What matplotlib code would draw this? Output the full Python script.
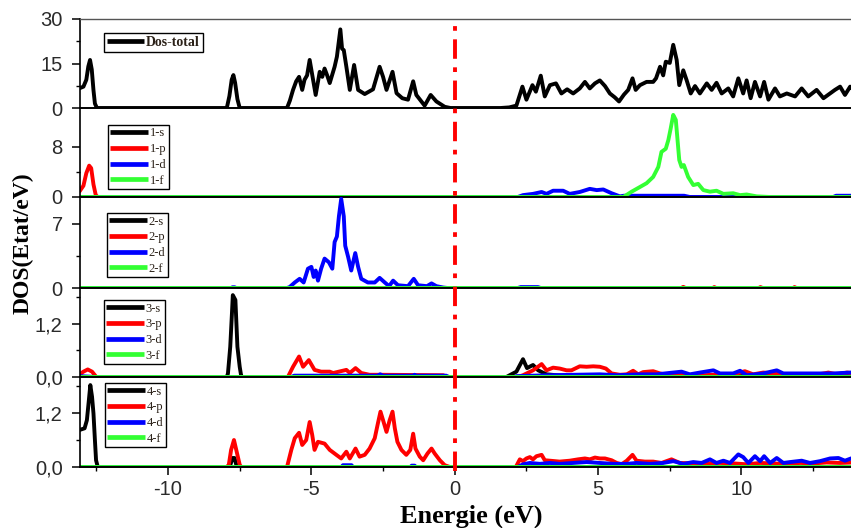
import matplotlib
matplotlib.use("Agg")
import matplotlib.pyplot as plt
from matplotlib.lines import Line2D
from matplotlib.ticker import FixedLocator, FuncFormatter
from matplotlib.transforms import blended_transform_factory

# (energy eV, DOS) points of each curve
total = [
    (-13.1, 6.6), (-12.95, 7.2), (-12.85, 9.5), (-12.78, 14.0), (-12.72, 16.2), (-12.66, 13.0),
    (-12.6, 6.0), (-12.55, 1.5), (-12.48, 0.0),
    (-7.95, 0.0), (-7.86, 4.0), (-7.78, 9.5), (-7.72, 11.1), (-7.66, 8.5), (-7.58, 3.0), (-7.5, 0.0),
    (-5.85, 0.0), (-5.75, 2.5), (-5.64, 6.1), (-5.53, 9.0), (-5.43, 10.5), (-5.32, 6.1), (-5.24, 9.5),
    (-5.15, 11.0), (-5.06, 16.2), (-4.95, 10.0), (-4.85, 4.4), (-4.71, 12.2), (-4.62, 10.5),
    (-4.54, 13.3), (-4.45, 11.0), (-4.36, 8.4), (-4.19, 13.9), (-4.11, 17.3), (-3.99, 26.5),
    (-3.93, 20.0), (-3.87, 19.5), (-3.78, 13.9), (-3.66, 6.1), (-3.51, 14.5), (-3.37, 6.1),
    (-3.14, 4.7), (-2.85, 6.3), (-2.62, 13.9), (-2.5, 10.5), (-2.38, 6.1), (-2.17, 12.2),
    (-2.03, 5.0), (-1.83, 3.3), (-1.63, 2.8), (-1.45, 9.0), (-1.34, 4.4), (-1.05, 0.8),
    (-0.84, 4.4), (-0.64, 2.2), (-0.35, 0.4), (-0.15, 0.0),
    (1.6, 0.0), (1.9, 0.2), (2.15, 0.8), (2.36, 7.2), (2.5, 2.8), (2.71, 7.7), (2.83, 5.5),
    (3.0, 10.9), (3.14, 3.9), (3.32, 7.7), (3.53, 8.3), (3.72, 4.9), (3.92, 6.3), (4.13, 4.9),
    (4.36, 6.6), (4.54, 8.8), (4.71, 6.6), (4.89, 8.3), (5.06, 9.3), (5.24, 7.4), (5.41, 4.9),
    (5.58, 3.6), (5.73, 2.2), (5.9, 4.5), (6.05, 6.1), (6.2, 10.0), (6.31, 6.1), (6.46, 7.7),
    (6.69, 8.8), (6.92, 8.8), (7.02, 10.0), (7.16, 13.9), (7.27, 11.0), (7.36, 15.6), (7.5, 15.2),
    (7.62, 21.3), (7.74, 16.2), (7.83, 7.7), (7.97, 12.7), (8.09, 9.3), (8.23, 4.9), (8.38, 7.4),
    (8.55, 4.9), (8.79, 8.3), (8.96, 6.1), (9.13, 8.5), (9.31, 4.9), (9.54, 6.6), (9.71, 3.9),
    (9.89, 10.0), (10.06, 4.9), (10.18, 9.3), (10.32, 3.3), (10.47, 8.8), (10.65, 3.9),
    (10.79, 8.8), (10.94, 2.8), (11.17, 6.6), (11.34, 3.9), (11.58, 4.9), (11.87, 3.9),
    (12.1, 6.6), (12.33, 3.9), (12.62, 6.1), (12.86, 3.3), (13.09, 4.9), (13.26, 6.1),
    (13.44, 7.2), (13.61, 4.4), (13.79, 7.2), (13.9, 6.0),
]

zero = [(-13.1, 0.0), (13.9, 0.0)]

# site 1
s1 = zero
p1 = [(-13.1, 0.8), (-12.95, 1.8), (-12.85, 3.8), (-12.75, 5.0), (-12.68, 4.6), (-12.6, 2.0),
      (-12.52, 0.3), (-12.45, 0.0), (13.9, 0.0)]
d1 = [(-13.1, 0.0), (2.2, 0.0), (2.38, 0.3), (2.73, 0.5), (3.03, 0.8), (3.2, 0.5), (3.43, 1.0),
      (3.78, 1.0), (4.01, 0.5), (4.36, 0.8), (4.71, 1.3), (4.95, 1.1), (5.18, 1.2), (5.47, 0.6),
      (5.76, 0.1), (5.9, 0.2), (8.0, 0.2), (8.2, 0.0), (13.2, 0.0), (13.3, 0.2), (13.9, 0.2)]
f1 = [(-13.1, 0.0), (5.88, 0.0), (6.17, 0.85), (6.46, 1.6), (6.69, 2.2), (6.92, 3.2), (7.1, 4.8),
      (7.21, 7.2), (7.36, 7.7), (7.45, 9.1), (7.53, 10.9), (7.62, 13.1), (7.71, 12.3), (7.77, 9.1),
      (7.83, 5.9), (7.91, 4.8), (7.99, 5.1), (8.14, 3.2), (8.32, 1.9), (8.49, 2.1), (8.67, 1.1),
      (8.9, 0.85), (9.13, 1.0), (9.37, 0.5), (9.71, 0.6), (9.95, 0.3), (10.18, 0.4), (10.53, 0.1),
      (11.0, 0.0), (13.9, 0.0)]

# site 2
s2 = zero
p2 = [(-13.1, 0.0), (7.9, 0.0), (7.97, 0.12), (8.05, 0.0), (9.0, 0.0), (9.05, 0.1), (9.12, 0.0),
      (10.6, 0.0), (10.66, 0.1), (10.74, 0.0), (11.8, 0.0), (11.85, 0.1), (11.92, 0.0), (13.9, 0.0)]
d2 = [(-13.1, 0.0), (-7.8, 0.0), (-7.75, 0.08), (-7.68, 0.08), (-7.62, 0.0), (-5.85, 0.0),
      (-5.76, 0.1), (-5.58, 0.6), (-5.41, 1.0), (-5.27, 0.6), (-5.12, 2.1), (-5.0, 2.3),
      (-4.92, 1.2), (-4.85, 1.9), (-4.77, 0.8), (-4.66, 2.1), (-4.54, 3.2), (-4.39, 2.8),
      (-4.27, 2.1), (-4.19, 5.0), (-4.11, 5.6), (-4.04, 7.8), (-3.96, 9.7), (-3.87, 7.8),
      (-3.82, 4.6), (-3.72, 3.4), (-3.61, 1.9), (-3.47, 3.8), (-3.37, 2.3), (-3.26, 1.0),
      (-3.03, 0.6), (-2.79, 0.6), (-2.62, 1.1), (-2.44, 0.6), (-2.29, 0.2), (-2.15, 0.8),
      (-1.98, 0.3), (-1.63, 0.2), (-1.43, 1.0), (-1.28, 0.3), (-0.97, 0.2), (-0.81, 0.5),
      (-0.64, 0.2), (-0.4, 0.05), (-0.25, 0.0), (2.2, 0.0), (2.3, 0.1), (2.9, 0.1), (3.0, 0.0),
      (13.9, 0.0)]
f2 = zero

# site 3
s3 = [(-13.1, 0.0), (-7.95, 0.0), (-7.91, 0.08), (-7.83, 0.68), (-7.77, 1.44), (-7.74, 1.84),
      (-7.65, 1.73), (-7.58, 0.68), (-7.5, 0.23), (-7.45, 0.03), (-7.4, 0.0), (1.8, 0.0),
      (2.15, 0.12), (2.38, 0.4), (2.52, 0.2), (2.73, 0.27), (2.91, 0.15), (3.2, 0.06),
      (3.55, 0.04), (4.0, 0.02), (13.9, 0.02)]
p3 = [(-13.1, 0.05), (-12.95, 0.12), (-12.8, 0.17), (-12.65, 0.12), (-12.5, 0.0), (-5.82, 0.0),
      (-5.64, 0.23), (-5.43, 0.46), (-5.29, 0.23), (-5.09, 0.38), (-4.89, 0.16), (-4.66, 0.12),
      (-4.36, 0.12), (-4.24, 0.09), (-3.78, 0.16), (-3.66, 0.09), (-3.46, 0.2), (-3.26, 0.09),
      (-2.97, 0.05), (-2.62, 0.05), (-0.4, 0.04), (-0.3, 0.0), (2.2, 0.0), (2.38, 0.04),
      (2.73, 0.15), (3.03, 0.29), (3.2, 0.15), (3.43, 0.21), (3.66, 0.19), (3.9, 0.15),
      (4.07, 0.15), (4.36, 0.24), (4.6, 0.23), (4.83, 0.24), (5.06, 0.23), (5.27, 0.19),
      (5.47, 0.08), (5.76, 0.05), (6.0, 0.06), (6.22, 0.14), (6.4, 0.06), (6.57, 0.11),
      (6.92, 0.13), (7.16, 0.08), (7.39, 0.05), (7.97, 0.05), (8.67, 0.04), (9.0, 0.05),
      (9.71, 0.06), (10.12, 0.13), (10.41, 0.06), (10.76, 0.1), (11.23, 0.08), (11.58, 0.05),
      (12.04, 0.06), (12.62, 0.05), (13.03, 0.1), (13.33, 0.06), (13.68, 0.1), (13.9, 0.08)]
d3 = [(-13.1, 0.02), (-12.5, 0.0), (-5.7, 0.0), (-5.6, 0.03), (-2.7, 0.03), (-2.6, 0.06),
      (-2.5, 0.03), (-1.45, 0.03), (-1.4, 0.05), (-1.35, 0.03), (-0.3, 0.03), (-0.2, 0.0),
      (2.1, 0.0), (2.15, 0.02), (3.32, 0.04), (5.06, 0.06), (5.65, 0.04), (6.45, 0.06),
      (7.04, 0.06), (7.91, 0.12), (8.2, 0.06), (8.55, 0.1), (9.02, 0.15), (9.25, 0.08),
      (9.71, 0.08), (9.95, 0.14), (10.18, 0.04), (10.76, 0.08), (11.23, 0.15), (11.46, 0.08),
      (12.04, 0.08), (12.62, 0.08), (13.2, 0.08), (13.8, 0.1), (13.9, 0.1)]
f3 = zero

# site 4
s4 = [(-13.1, 0.82), (-12.91, 0.86), (-12.83, 1.04), (-12.76, 1.49), (-12.71, 1.82),
      (-12.65, 1.56), (-12.6, 1.19), (-12.55, 0.6), (-12.51, 0.15), (-12.45, 0.0),
      (-7.85, 0.0), (-7.75, 0.2), (-7.68, 0.2), (-7.6, 0.0), (13.9, 0.0)]
p4 = [(-13.1, 0.0), (-7.95, 0.0), (-7.88, 0.05), (-7.8, 0.38), (-7.7, 0.6), (-7.62, 0.38),
      (-7.5, 0.05), (-7.45, 0.0), (-5.85, 0.0), (-5.7, 0.38), (-5.58, 0.64), (-5.43, 0.76),
      (-5.32, 0.49), (-5.18, 0.6), (-5.06, 1.0), (-4.97, 0.71), (-4.89, 0.38), (-4.77, 0.56),
      (-4.54, 0.52), (-4.36, 0.38), (-4.13, 0.27), (-3.96, 0.19), (-3.78, 0.34), (-3.66, 0.19),
      (-3.46, 0.41), (-3.32, 0.23), (-3.14, 0.27), (-2.97, 0.41), (-2.79, 0.64), (-2.68, 0.97),
      (-2.59, 1.23), (-2.5, 1.04), (-2.38, 0.78), (-2.27, 1.04), (-2.17, 1.23), (-2.09, 0.86),
      (-2.0, 0.56), (-1.86, 0.38), (-1.69, 0.27), (-1.55, 0.38), (-1.45, 0.74), (-1.37, 0.41),
      (-1.22, 0.23), (-1.1, 0.15), (-0.95, 0.3), (-0.81, 0.41), (-0.7, 0.3), (-0.52, 0.15),
      (-0.35, 0.04), (-0.17, 0.0), (2.13, 0.0), (2.27, 0.17), (2.38, 0.13), (2.5, 0.19),
      (2.62, 0.22), (2.73, 0.17), (2.85, 0.24), (3.03, 0.27), (3.14, 0.15), (3.32, 0.14),
      (3.66, 0.12), (4.01, 0.14), (4.3, 0.17), (4.54, 0.19), (4.71, 0.17), (4.89, 0.21),
      (5.06, 0.19), (5.24, 0.19), (5.47, 0.15), (5.65, 0.09), (5.82, 0.06), (6.0, 0.14),
      (6.2, 0.27), (6.34, 0.14), (6.63, 0.12), (6.92, 0.12), (7.21, 0.09), (7.56, 0.17),
      (7.85, 0.09), (8.32, 0.08), (8.79, 0.08), (9.25, 0.09), (9.72, 0.08), (10.18, 0.06),
      (10.65, 0.09), (11.11, 0.08), (11.58, 0.06), (12.04, 0.09), (12.51, 0.08), (12.97, 0.1),
      (13.44, 0.09), (13.9, 0.1)]
d4 = [(-13.1, 0.0), (-3.95, 0.0), (-3.9, 0.04), (-3.6, 0.04), (-3.55, 0.0), (-1.55, 0.0),
      (-1.5, 0.03), (-1.4, 0.03), (-1.35, 0.0), (2.2, 0.0), (2.38, 0.06), (2.62, 0.09),
      (2.97, 0.07), (3.32, 0.09), (3.66, 0.07), (4.13, 0.09), (4.6, 0.11), (5.06, 0.09),
      (5.53, 0.07), (6.0, 0.07), (6.34, 0.09), (6.81, 0.07), (7.27, 0.09), (7.62, 0.13),
      (7.97, 0.07), (8.32, 0.11), (8.61, 0.09), (8.9, 0.17), (9.13, 0.09), (9.37, 0.14),
      (9.6, 0.09), (9.89, 0.28), (10.06, 0.22), (10.24, 0.09), (10.47, 0.24), (10.65, 0.13),
      (10.79, 0.24), (11.0, 0.09), (11.23, 0.2), (11.46, 0.09), (11.7, 0.11), (12.1, 0.14),
      (12.39, 0.09), (12.74, 0.13), (13.09, 0.19), (13.38, 0.2), (13.61, 0.14), (13.82, 0.19),
      (13.9, 0.17)]
f4 = zero

sites = [(s1, p1, d1, f1), (s2, p2, d2, f2), (s3, p3, d3, f3), (s4, p4, d4, f4)]
orbitals = ["s", "p", "d", "f"]
orbital_colors = ["black", "#ff0000", "#0000ff", "#33ff33"]

# y range, major and minor ticks of each panel
y_limits = [(0, 30), (0, 14.2), (0, 9.9), (0, 2.0), (0, 2.0)]
y_major = [[0, 15, 30], [0, 8], [0, 7], [0.0, 1.2], [0.0, 1.2]]
y_minor = [[7.5, 22.5], [4], [3.5], [0.6, 1.8], [0.6, 1.8]]
comma_decimal = [False, False, False, True, True]

x_major = [-10, -5, 0, 5, 10]
x_minor = [-12.5, -7.5, -2.5, 2.5, 7.5, 12.5]

W, H = 851, 528
panel_edges = [19, 108, 197, 288, 377, 467]   # pixel rows of panel borders
legend_anchor = [(0.031, 0.843), (0.036, 0.81), (0.035, 0.824), (0.031, 0.865), (0.032, 0.933)]

serif = ["Liberation Serif", "DejaVu Serif"]
sans = ["Liberation Sans", "DejaVu Sans"]
plt.rcParams["axes.unicode_minus"] = False

fig = plt.figure(figsize=(W / 100, H / 100), dpi=100)

axes = []
for i in range(5):
    top, bottom = panel_edges[i], panel_edges[i + 1]
    ax = fig.add_axes([80 / W, 1 - bottom / H, 1 - 80 / W, (bottom - top) / H])
    axes.append(ax)

lw = 2.8

def draw(ax, pts, color, label):
    xs = [p[0] for p in pts]
    ys = [p[1] for p in pts]
    return ax.plot(xs, ys, color=color, lw=lw, label=label,
                   solid_joinstyle="round", solid_capstyle="butt")[0]

# total DOS
draw(axes[0], total, "black", "Dos-total")

# projected DOS per site
for k, curves in enumerate(sites):
    ax = axes[k + 1]
    for orb, pts, col in zip(orbitals, curves, orbital_colors):
        draw(ax, pts, col, f"{k + 1}-{orb}")

for i, ax in enumerate(axes):
    ax.set_xlim(-13.07, 13.82)
    ax.set_ylim(*y_limits[i])
    ax.yaxis.set_major_locator(FixedLocator(y_major[i]))
    ax.yaxis.set_minor_locator(FixedLocator(y_minor[i]))
    if comma_decimal[i]:
        ax.yaxis.set_major_formatter(FuncFormatter(lambda v, pos: f"{v:.1f}".replace(".", ",")))
    else:
        ax.yaxis.set_major_formatter(FuncFormatter(lambda v, pos: f"{v:g}"))
    ax.xaxis.set_major_locator(FixedLocator(x_major))
    ax.xaxis.set_minor_locator(FixedLocator(x_minor))
    ax.tick_params(axis="y", which="major", direction="out", length=5.5, width=1.1,
                   labelsize=14.5, labelcolor="#2a2a2a", pad=7)
    ax.tick_params(axis="y", which="minor", direction="out", length=3, width=1.0)
    if i < 4:
        ax.tick_params(axis="x", which="both", bottom=False, labelbottom=False)
    else:
        ax.tick_params(axis="x", which="major", direction="out", length=5.5, width=1.1,
                       labelsize=14.5, labelcolor="#2a2a2a", pad=4)
        ax.tick_params(axis="x", which="minor", direction="out", length=3, width=1.0)
    for lab in ax.get_yticklabels() + ax.get_xticklabels():
        lab.set_family(sans)
    ax.spines["right"].set_visible(False)
    ax.spines["left"].set_linewidth(1.2)
    ax.spines["bottom"].set_linewidth(1.4)
    if i == 0:
        ax.spines["top"].set_color("#555555")
        ax.spines["top"].set_linewidth(1.0)
    else:
        ax.spines["top"].set_visible(False)
    ax.set_facecolor("none")

    if i == 0:
        prop = {"family": serif, "size": 10, "weight": "bold"}
        hlen = 2.7
    else:
        prop = {"family": serif, "size": 9}
        hlen = 3.0
    leg = ax.legend(loc="upper left", bbox_to_anchor=legend_anchor[i], prop=prop,
                    frameon=True, fancybox=False, edgecolor="black", framealpha=1,
                    handlelength=hlen, handletextpad=0.15, borderpad=0.2,
                    labelspacing=0.3, borderaxespad=0)
    leg.get_frame().set_linewidth(1.0)
    for line in leg.get_lines():
        line.set_linewidth(3.4)
    for txt in leg.get_texts():
        txt.set_color("#2b2118")

# Fermi level marker spanning all panels
trans = blended_transform_factory(axes[-1].transData, fig.transFigure)
fig.add_artist(Line2D([0, 0], [1 - 471 / H, 1 - 19 / H], transform=trans,
                      color="#ff0000", lw=2.8, linestyle=(0, (5, 2.2, 1.2, 2.2))))

fig.text(23 / W, 1 - 243 / H, "DOS(Etat/eV)", rotation=90, ha="center", va="center",
         family=serif, weight="bold", fontsize=17)
fig.text(471 / W, 1 - 516 / H, "Energie (eV)", ha="center", va="center",
         family=serif, weight="bold", fontsize=19)

fig.savefig("out.png", dpi=100)
